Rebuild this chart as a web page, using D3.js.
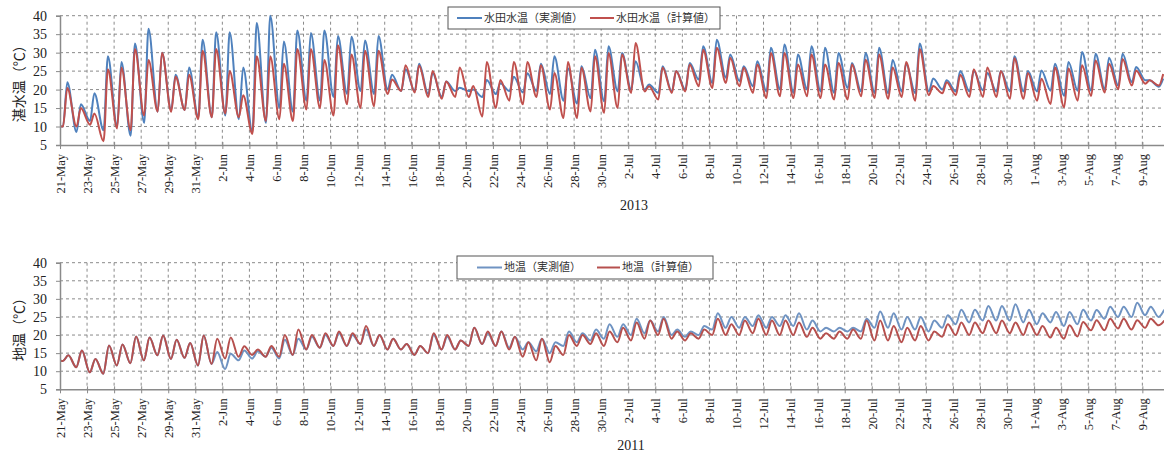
<!DOCTYPE html>
<html>
<head>
<meta charset="utf-8">
<script src="https://cdn.jsdelivr.net/npm/d3@7"></script>
<style>
  body { margin: 0; background: #fff; }
  svg { display: block; }
</style>
</head>
<body>
<svg id="chart" width="1164" height="456"></svg>
<script>
// Date tick labels shared by both panels (every second day)
const tickLabels = [
  "21-May","23-May","25-May","27-May","29-May","31-May",
  "2-Jun","4-Jun","6-Jun","8-Jun","10-Jun","12-Jun","14-Jun","16-Jun","18-Jun",
  "20-Jun","22-Jun","24-Jun","26-Jun","28-Jun","30-Jun",
  "2-Jul","4-Jul","6-Jul","8-Jul","10-Jul","12-Jul","14-Jul","16-Jul","18-Jul",
  "20-Jul","22-Jul","24-Jul","26-Jul","28-Jul","30-Jul",
  "1-Aug","3-Aug","5-Aug","7-Aug","9-Aug"
];
const yTicks = [5, 10, 15, 20, 25, 30, 35, 40];

// Paddy water temperature 2013 — daily morning minimum and afternoon maximum (°C), from 21 May
const waterObsMin = [
  10, 8.5, 11.5, 9, 10, 7.5, 11, 14, 14.5, 14.5,
  12.5, 12.5, 13, 12, 8.5, 11, 15, 14, 17, 17,
  18, 18.8, 19.6, 18.8, 20, 19.6, 19.6, 18.8, 18, 19.6,
  19.6, 18, 18.8, 19.6, 19.2, 19.6, 18.8, 17, 16.2, 17.7,
  16.8, 19.5, 20, 20, 19.1, 19.5, 20, 22.7, 21.8, 23.2,
  22.3, 20.9, 19.5, 20, 19.1, 20, 19.5, 19.1, 20.4, 19.5,
  19.1, 19, 19.5, 19, 19.5, 20, 19.5, 19.5, 19.8, 19.5,
  19.5, 19.5, 19.5, 19.7, 18.3, 19.7, 19.7, 20.1, 21.1, 22,
  22.5, 20.8
];
const waterObsMax = [
  22, 16, 19, 29, 27.5, 32.5, 36.5, 30, 24, 26,
  33.5, 35.5, 35.5, 26, 38, 40, 33, 36, 35.3, 36,
  34.5, 34.3, 33.3, 34.5, 24, 25.5, 27, 24.5, 22.2, 20.5,
  20, 22.6, 21.7, 23.5, 24.4, 27, 29, 25.8, 26.3, 30.8,
  31.7, 29.9, 27.7, 21.4, 26.3, 25, 27.2, 31.7, 33.5, 29.5,
  26.3, 27.7, 31.3, 32.2, 29.5, 31.7, 31.3, 29.9, 27.2, 29.9,
  31.3, 28, 27, 32.5, 23, 22.5, 25, 25, 24.5, 25,
  29, 25, 25.2, 27, 27.5, 30.2, 29.7, 28.6, 29.7, 26.1,
  22.5, 23
];
const waterCalcMin = [
  10, 10, 10.5, 6, 9.5, 9, 13, 14, 14, 14.5,
  12, 12.5, 13.5, 12.5, 8, 11.5, 12, 11.5, 14.6, 15,
  13, 16, 15, 15.5, 18.8, 19.6, 19.2, 18, 17.5, 18,
  18, 12.7, 15, 17, 16, 18, 14.6, 12.3, 12.3, 14.1,
  13.7, 15, 19.1, 19.5, 17.3, 19.1, 19.5, 20.9, 20.4, 21.8,
  20.9, 19.1, 17.7, 18.2, 17.7, 18.2, 17.7, 17.3, 17.3, 18.2,
  17.7, 17.5, 18, 17, 18.5, 19, 18.5, 18, 18, 18,
  17.5, 17.5, 17, 16.1, 15.2, 17, 18.3, 19.2, 20.1, 21.1,
  21.6, 21.1
];
const waterCalcMax = [
  20.4, 15, 13.5, 25.5, 26, 31, 28, 30, 23.5, 24,
  30.5, 31, 25, 18.5, 29, 29, 27, 31, 31, 28,
  32, 29.5, 30.5, 30.5, 22.7, 26.6, 26.5, 25, 22.2, 26,
  21, 27.5, 22.6, 27.5, 27.5, 26.6, 24.5, 27.5, 25.9, 29,
  29.9, 29.5, 32.6, 20.9, 25.9, 25, 26.8, 30.8, 31.3, 28.6,
  25.9, 26.8, 29.9, 29.9, 26.8, 29.5, 26.8, 27.2, 26.8, 28.1,
  29.5, 26, 27.5, 31, 21, 22, 24, 25.5, 26, 25,
  28.5, 24.5, 22.9, 26, 25.7, 26.6, 27.9, 27, 28.3, 25.2,
  22.5, 24.2
];

// Soil temperature 2011 — daily minimum and maximum (°C), from 21 May
const soilObsMin = [
  12.8, 11.1, 9.7, 9.3, 11.6, 12.2, 13, 14.4, 13.4, 13.7,
  11.6, 12, 10.6, 13, 13.5, 14, 13.5, 14.5, 16, 16.5,
  17, 17, 17.5, 17, 16, 16, 14.5, 15, 16, 16,
  17, 17.5, 17, 16.5, 16, 15.5, 15, 17, 18, 18.5,
  19, 19.5, 20, 20.5, 21, 20, 19.5, 20, 21.5, 22,
  22, 22.5, 22, 22.5, 22.5, 21.5, 21, 21, 21, 21,
  22, 22, 21.5, 21.5, 21, 22, 23, 23.5, 24, 24,
  24, 23.5, 23, 23.5, 22.5, 23, 24, 24.5, 25, 25,
  25.5, 25
];
const soilObsMax = [
  14.4, 15.7, 13.4, 17.1, 17.4, 19.6, 19.3, 19.9, 18.7, 17.8,
  19.9, 15.3, 14.8, 15.7, 15.5, 16.5, 18.7, 19, 19.5, 20,
  20.5, 20, 21.5, 20, 19, 17.5, 17, 20, 19.5, 18.5,
  22, 20.5, 21, 19.5, 18, 19, 18, 21, 20.5, 21.5,
  23, 23, 24.5, 24, 25, 21.5, 21, 22.5, 26, 25,
  25, 25.5, 25, 25.5, 26, 24, 22, 22, 22, 24.5,
  26.5, 26, 25, 25, 24, 25.5, 27, 27, 28, 28,
  28.5, 27, 26, 26.4, 26.4, 27, 26.9, 27.8, 27.8, 28.9,
  27.8, 27
];
const soilCalcMin = [
  12.8, 11.1, 9.7, 9.3, 11.6, 12.2, 13, 14.4, 13.4, 13.7,
  11.6, 12, 13.5, 14, 14.5, 14, 14, 14.5, 16, 16.5,
  17, 17, 17.5, 17, 16, 16, 14.5, 15, 16, 16,
  17, 17.5, 17, 16, 14, 13, 12.5, 14.5, 17, 17.5,
  17, 18, 18.5, 19, 20, 19, 18.5, 19, 20, 20,
  20, 20.5, 20, 20, 20, 19.5, 19, 19, 19, 19,
  18.5, 18.5, 18, 18.5, 18.5, 19.5, 20, 20, 20.5, 20.5,
  20.5, 20, 20, 19.3, 19, 19.6, 21.3, 21.3, 21.8, 21.5,
  22, 22.7
];
const soilCalcMax = [
  14.4, 15.7, 13.4, 17.1, 17.4, 19.6, 19.3, 19.9, 18.7, 17.8,
  19.9, 19, 19.3, 16.9, 16, 17, 20, 21.5, 20, 20.5,
  21, 20.5, 22.5, 20, 19, 17.5, 17, 20.5, 20, 18.5,
  22, 21, 21, 19.5, 18, 19, 17, 20, 20, 20.5,
  21, 22, 23.5, 24, 24.5, 21, 20.5, 21.5, 24.5, 23,
  24, 24.5, 24, 24, 23.5, 22, 20.5, 21, 21.5, 24,
  24, 22.5, 22, 22.5, 21, 23, 23.5, 23.5, 24, 24,
  23.5, 23.5, 22.5, 22, 22.7, 23.6, 24.1, 24.5, 24.5, 24.1,
  24.5, 24
];

const waterStart = 10;   // value at 0:00 on 21 May
const soilStart = 13;

const svg = d3.select("#chart");
const plotLeft = 60, plotRight = 1164;
const spanDays = 81.6;
const DAY = 864e5;

// Alternate daily minimum / maximum points into one time series
function buildSeries(start, mins, maxs, tMin, tMax, t0) {
  const pts = [{ t: 0, v: start }];
  const n = Math.min(mins.length, maxs.length);
  for (let d = 0; d < n; d++) {
    pts.push({ t: d + tMin, v: mins[d] });
    pts.push({ t: d + tMax, v: maxs[d] });
  }
  return pts.map(p => ({ date: new Date(t0.getTime() + p.t * DAY), v: p.v }));
}

function drawPanel(cfg) {
  const t0 = new Date(cfg.year, 4, 21);
  const x = d3.scaleTime()
    .domain([t0, new Date(t0.getTime() + spanDays * DAY)])
    .range([plotLeft, plotRight]);
  const y = d3.scaleLinear().domain([5, 40]).range([cfg.bottom, cfg.top]);
  const parse = d3.timeParse("%d-%b-%Y");
  const tickDates = tickLabels.map(s => parse(s + "-" + cfg.year));

  const g = svg.append("g");

  // horizontal grid
  g.selectAll(".hg").data(yTicks.filter(v => v > 5)).join("line")
    .attr("x1", plotLeft).attr("x2", plotRight)
    .attr("y1", d => y(d)).attr("y2", d => y(d))
    .attr("stroke", "#8a8a8a").attr("stroke-width", 1)
    .attr("stroke-dasharray", "3,3");

  // vertical grid
  g.selectAll(".vg").data(tickDates.slice(1)).join("line")
    .attr("x1", d => x(d)).attr("x2", d => x(d))
    .attr("y1", cfg.top).attr("y2", cfg.bottom)
    .attr("stroke", "#8a8a8a").attr("stroke-width", 1)
    .attr("stroke-dasharray", "3,3");

  // series
  const clipId = "clip" + cfg.year;
  svg.append("clipPath").attr("id", clipId).append("rect")
    .attr("x", plotLeft).attr("y", cfg.top - 2)
    .attr("width", plotRight - plotLeft).attr("height", cfg.bottom - cfg.top + 2);
  const line = d3.line().x(d => x(d.date)).y(d => y(d.v)).curve(d3.curveMonotoneX);
  const sg = g.append("g").attr("clip-path", `url(#${clipId})`);
  cfg.series.forEach(s => {
    sg.append("path").datum(s.data)
      .attr("fill", "none").attr("stroke", s.color)
      .attr("stroke-width", 2).attr("stroke-linejoin", "round")
      .attr("d", line);
  });

  // axes
  const xAxis = d3.axisBottom(x).tickValues(tickDates)
    .tickFormat(d3.timeFormat("%-d-%b")).tickSize(0).tickPadding(0);
  const xa = g.append("g").attr("transform", `translate(0,${cfg.bottom})`).call(xAxis);
  xa.select(".domain").attr("stroke", "#8a8a8a").attr("stroke-width", 1.5);
  xa.selectAll(".tick").append("line")
    .attr("y1", -3).attr("y2", 4).attr("stroke", "#8a8a8a").attr("stroke-width", 1);
  xa.selectAll(".tick text")
    .attr("transform", "rotate(-90)")
    .attr("text-anchor", "end")
    .attr("x", -9).attr("y", 0).attr("dy", "0.35em")
    .attr("font-family", "'Liberation Serif', 'Times New Roman', serif")
    .attr("font-size", 12.5).attr("fill", "#222");

  const yAxis = d3.axisLeft(y).tickValues(yTicks).tickSize(4).tickPadding(9);
  const ya = g.append("g").attr("transform", `translate(${plotLeft},0)`).call(yAxis);
  ya.select(".domain").attr("stroke", "#8a8a8a").attr("stroke-width", 1.5);
  ya.selectAll(".tick line").attr("stroke", "#8a8a8a");
  ya.selectAll(".tick text")
    .attr("font-family", "'Liberation Serif', 'Times New Roman', serif")
    .attr("font-size", 14).attr("fill", "#222");

  // axis title
  g.append("text")
    .attr("transform", `translate(19,${(cfg.top + cfg.bottom) / 2}) rotate(-90)`)
    .attr("text-anchor", "middle").attr("dy", "0.35em")
    .attr("font-family", "'Noto Sans CJK JP', sans-serif")
    .attr("font-size", 14).attr("fill", "#222")
    .text(cfg.yTitle);

  // year caption
  g.append("text")
    .attr("x", cfg.yearX).attr("y", cfg.yearY)
    .attr("text-anchor", "middle")
    .attr("font-family", "'Liberation Serif', 'Times New Roman', serif")
    .attr("font-size", 14).attr("fill", "#222")
    .text(cfg.year);

  // legend
  const L = cfg.legend;
  const lg = g.append("g");
  lg.append("rect").attr("x", L.x).attr("y", L.y).attr("width", L.w).attr("height", L.h)
    .attr("fill", "#fff").attr("stroke", "#555").attr("stroke-width", 1);
  cfg.series.forEach((s, i) => {
    const it = L.items[i];
    lg.append("line").attr("x1", it.lx).attr("x2", it.lx + it.lw)
      .attr("y1", L.y + L.h / 2).attr("y2", L.y + L.h / 2)
      .attr("stroke", s.color).attr("stroke-width", 2);
    lg.append("text").attr("x", it.lx + it.lw + 2).attr("y", L.y + L.h / 2)
      .attr("dy", "0.35em")
      .attr("font-family", "'Noto Sans CJK JP', sans-serif")
      .attr("font-size", 11).attr("fill", "#333")
      .text(s.name);
  });
}

const t2013 = new Date(2013, 4, 21);
const t2011 = new Date(2011, 4, 21);

drawPanel({
  year: 2013, top: 15.7, bottom: 145,
  yTitle: "湛水温（℃）", yearX: 634, yearY: 210,
  series: [
    { name: "水田水温（実測値）", color: "#4F81BD",
      data: buildSeries(waterStart, waterObsMin, waterObsMax, 0.22, 0.54, t2013) },
    { name: "水田水温（計算値）", color: "#C0504D",
      data: buildSeries(waterStart, waterCalcMin, waterCalcMax, 0.22, 0.54, t2013) }
  ],
  legend: { x: 448, y: 7, w: 272, h: 22,
    items: [{ lx: 457, lw: 25 }, { lx: 590, lw: 24 }] }
});

drawPanel({
  year: 2011, top: 262.7, bottom: 389.3,
  yTitle: "地温（℃）", yearX: 631, yearY: 450,
  series: [
    { name: "地温（実測値）", color: "#6F93C2",
      data: buildSeries(soilStart, soilObsMin, soilObsMax, 0.2, 0.62, t2011) },
    { name: "地温（計算値）", color: "#B6504E",
      data: buildSeries(soilStart, soilCalcMin, soilCalcMax, 0.2, 0.62, t2011) }
  ],
  legend: { x: 457, y: 256, w: 256, h: 23,
    items: [{ lx: 477, lw: 25 }, { lx: 597, lw: 23 }] }
});
</script>
</body>
</html>
